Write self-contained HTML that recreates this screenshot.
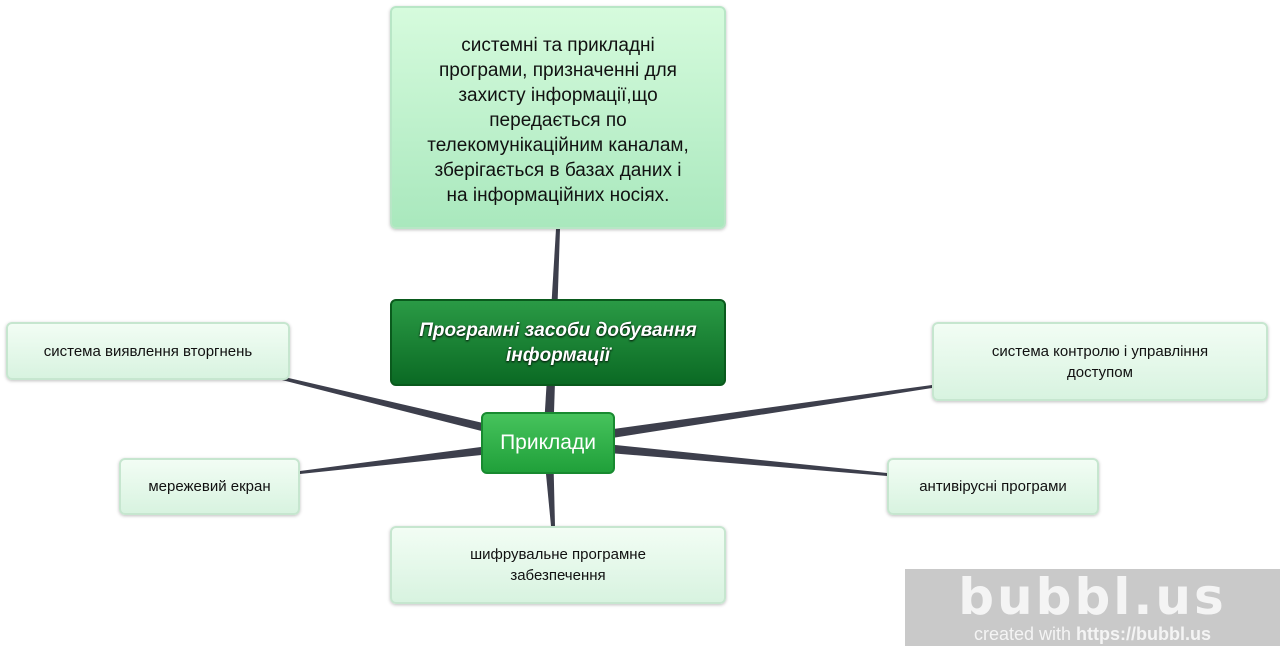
<!DOCTYPE html>
<html><head><meta charset="utf-8"><style>
body{margin:0;width:1280px;height:646px;background:#fff;position:relative;overflow:hidden;font-family:"Liberation Sans","DejaVu Sans",sans-serif}
.n{position:absolute;box-sizing:border-box;display:flex;align-items:center;justify-content:center;text-align:center;border-radius:6px;color:#111}
.lt{background:linear-gradient(#f2fdf4,#d8f3e0);border:2px solid #c6e6cf;box-shadow:0 1px 3px rgba(0,0,0,.25);font-size:15px;line-height:21px}
svg{position:absolute;left:0;top:0}
</style></head><body>
<svg width="1280" height="646">
<g fill="#3d3f4c">
<polygon points="543,443 553,443 560,229 556,229"/>
<polygon points="548,438 548,448 278,379 280,376"/>
<polygon points="548,438 548,448 300,474 300,471"/>
<polygon points="543,443 553,443 555,526 551,526"/>
<polygon points="548,438 548,448 932,388 932,385"/>
<polygon points="548,438 548,448 887,476 887,473"/>
</g>
</svg>
<div class="n" style="left:390px;top:6px;width:336px;height:223px;background:linear-gradient(#d6fbdd,#a9e8bd);border:2px solid #b8e6c6;box-shadow:0 1px 3px rgba(0,0,0,.25);font-size:19px;line-height:25px;padding:6px 32px 0">системні та прикладні програми, призначенні для захисту інформації,що передається по телекомунікаційним каналам, зберігається в базах даних і на інформаційних носіях.</div>
<div class="n" style="left:390px;top:299px;width:336px;height:87px;background:linear-gradient(#2a9a45,#0b6a24);border:2px solid #0a5a1d;color:#fff;font-weight:bold;font-style:italic;font-size:19px;line-height:25px;text-shadow:0 1px 2px #000;padding:0 16px">Програмні засоби добування інформації</div>
<div class="n" style="left:481px;top:412px;width:134px;height:62px;background:linear-gradient(#46c35c,#20a03a);border:2px solid #188a30;color:#fff;font-size:21px">Приклади</div>
<div class="n lt" style="left:6px;top:322px;width:284px;height:58px">система виявлення вторгнень</div>
<div class="n lt" style="left:119px;top:458px;width:181px;height:57px">мережевий екран</div>
<div class="n lt" style="left:390px;top:526px;width:336px;height:78px;padding:0 40px">шифрувальне програмне забезпечення</div>
<div class="n lt" style="left:932px;top:322px;width:336px;height:79px;padding:0 30px">система контролю і управління доступом</div>
<div class="n lt" style="left:887px;top:458px;width:212px;height:57px">антивірусні програми</div>
<div style="position:absolute;left:905px;top:569px;width:375px;height:77px;background:#c9c9c9;text-align:center;color:#f4f4f4">
<div style="font-size:50px;font-weight:bold;line-height:56px;letter-spacing:3px;font-family:'DejaVu Sans',sans-serif">bubbl.us</div>
<div style="font-size:18px;line-height:18px">created with <b>https://bubbl.us</b></div>
</div>
</body></html>
